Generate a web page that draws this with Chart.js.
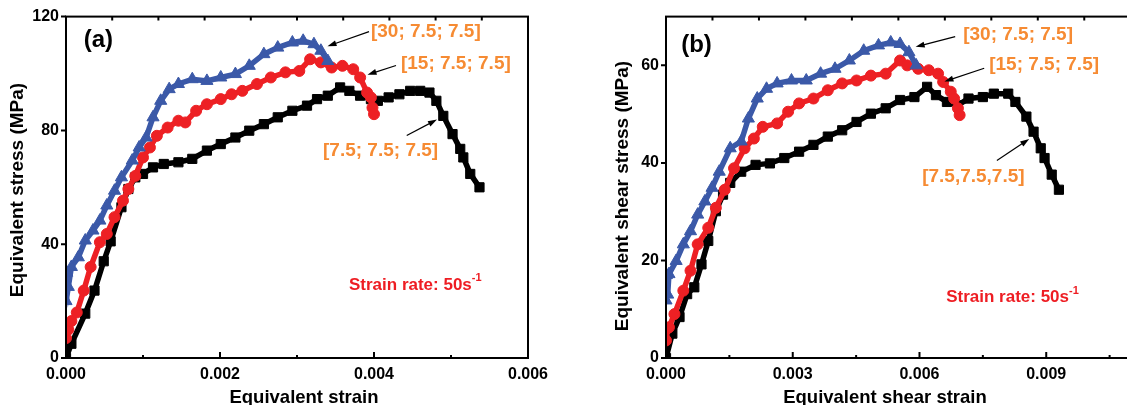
<!DOCTYPE html>
<html>
<head>
<meta charset="utf-8">
<script src="https://cdn.jsdelivr.net/npm/chart.js@4"></script>
<style>
  html, body { margin: 0; padding: 0; background: #fff; overflow: hidden; width: 1127px; height: 405px; }
  .panel { position: absolute; top: 0; }
  #wrapA { left: 0; width: 560px; height: 420px; }
  #wrapB { left: 580px; width: 620px; height: 420px; }
</style>
</head>
<body>
<div class="panel" id="wrapA"><canvas id="chartA" width="560" height="420"></canvas></div>
<div class="panel" id="wrapB"><canvas id="chartB" width="620" height="420"></canvas></div>
<script>
// (a) 等效應力-應變  [7.5;7.5;7.5] 黑 / [15;7.5;7.5] 紅 / [30;7.5;7.5] 藍
var aBlackX = [0, 0.00007, 0.00025, 0.00037, 0.00049, 0.00058, 0.00072, 0.00081, 0.0009, 0.001, 0.00113, 0.00127, 0.00146, 0.00164, 0.00183, 0.00201, 0.0022, 0.00238, 0.00257, 0.00275, 0.00294, 0.00313, 0.00326, 0.0034, 0.00356, 0.00368, 0.00382, 0.00396, 0.00405, 0.00419, 0.00433, 0.00447, 0.0046, 0.00472, 0.00481, 0.0049, 0.00502, 0.00512, 0.00516, 0.00525, 0.00537];
var aBlackY = [0, 5, 15.6, 23.7, 34, 41, 53, 59.4, 63.5, 64.7, 67, 68.2, 68.8, 70, 72.9, 75.2, 77.5, 79.9, 82.2, 84.6, 86.9, 88.7, 91, 92.2, 95.1, 93.9, 92.2, 91, 90.4, 91.6, 92.7, 93.9, 93.9, 93.3, 90.4, 85.1, 78.7, 73.5, 70.5, 64.7, 60];
var aRedX = [0, 0.00003, 0.00007, 0.00014, 0.00023, 0.00032, 0.00044, 0.00053, 0.00063, 0.00074, 0.00081, 0.0009, 0.001, 0.00109, 0.00118, 0.00132, 0.00146, 0.00155, 0.00169, 0.00183, 0.00201, 0.00215, 0.00229, 0.00248, 0.00266, 0.00285, 0.00303, 0.00317, 0.00331, 0.00345, 0.00359, 0.00373, 0.00382, 0.00391, 0.00396, 0.00398, 0.004];
var aRedY = [7, 10, 13, 16, 23.7, 32, 40.7, 43.6, 49.5, 55.3, 59.4, 64, 70.5, 74, 78.1, 81, 83.4, 82.8, 86.9, 89.2, 91, 92.7, 93.9, 96.3, 98.6, 100.4, 100.9, 105, 103.9, 102.1, 102.7, 101.5, 98.6, 93.3, 91.6, 88, 85.7];
var aBlueX = [0, 0.00001, 0.00003, 0.00007, 0.00016, 0.00025, 0.00035, 0.00044, 0.00053, 0.00063, 0.00072, 0.00086, 0.00095, 0.00104, 0.00113, 0.00123, 0.00134, 0.00146, 0.00164, 0.00183, 0.00201, 0.0022, 0.00238, 0.00257, 0.00275, 0.00294, 0.00308, 0.00322, 0.00331, 0.0034];
var aBlueY = [20, 30, 25, 32, 35.4, 41.3, 44.8, 48.3, 53.6, 58.8, 63.5, 69.4, 74, 77.5, 84.6, 90.4, 94.5, 96.3, 98, 97.4, 98.6, 99.8, 102.7, 106.8, 109.1, 110.9, 111.5, 110.3, 108, 104.4];
var aXTicks = [0, 0.002, 0.004, 0.006];
var aYTicks = [0, 40, 80, 120];
var aNotes = ['[30; 7.5; 7.5]', '[15; 7.5; 7.5]', '[7.5; 7.5; 7.5]'];

// (b) 等效剪應力-剪應變
var bBlackX = [0, 0.00015, 0.00032, 0.0005, 0.00067, 0.00084, 0.001, 0.00118, 0.00135, 0.00152, 0.00178, 0.00212, 0.00246, 0.0028, 0.00315, 0.00349, 0.00383, 0.00417, 0.00451, 0.00485, 0.0052, 0.00554, 0.00588, 0.00618, 0.00639, 0.00665, 0.00691, 0.00716, 0.0075, 0.00776, 0.0081, 0.00827, 0.00853, 0.0087, 0.00887, 0.00896, 0.00913, 0.0093];
var bBlackY = [0, 5, 8.4, 13.1, 14.5, 19.2, 24, 30.1, 33.5, 35.9, 38.2, 39.6, 39.9, 41, 42.3, 43.7, 45.4, 46.7, 48.4, 50.1, 51.2, 52.9, 53.5, 55.6, 53.9, 52.5, 51.8, 53.2, 53.5, 54.2, 54.2, 52.5, 49.5, 46.4, 43, 41, 37.6, 34.5];
var bRedX = [0, 0.00002, 0.00007, 0.0002, 0.00041, 0.00058, 0.00075, 0.001, 0.00118, 0.00139, 0.00161, 0.00186, 0.00208, 0.00229, 0.00263, 0.00289, 0.00315, 0.00349, 0.00383, 0.00417, 0.00451, 0.00485, 0.0052, 0.00554, 0.00571, 0.00597, 0.00622, 0.00644, 0.00656, 0.00674, 0.00682, 0.00691, 0.00695];
var bRedY = [3.6, 6, 6.3, 9, 13.8, 17.9, 23.3, 26.7, 30.8, 34.5, 38.9, 43, 45, 47.4, 48.1, 50.5, 52.2, 53.2, 54.9, 56.3, 56.9, 57.9, 58.3, 61, 60, 59.3, 59, 58.3, 56.6, 54.6, 53.2, 51.2, 49.8];
var bBlueX = [0, 0.00001, 0.00004, 0.00007, 0.00024, 0.00041, 0.00058, 0.00075, 0.00092, 0.00109, 0.00126, 0.00152, 0.00178, 0.00195, 0.00216, 0.00238, 0.00263, 0.00297, 0.00332, 0.00366, 0.004, 0.00434, 0.00468, 0.00503, 0.00532, 0.00554, 0.00575, 0.00592];
var bBlueY = [11.8, 17, 13, 17.2, 19.9, 23.3, 26, 29.4, 32.1, 34.9, 38.2, 43, 44.4, 49.1, 53.2, 55.2, 56.3, 56.9, 56.9, 58.3, 59.3, 61, 63, 64.1, 64.7, 64.4, 62.7, 60];
var bXTicks = [0, 0.003, 0.006, 0.009, 0.012];
var bYTicks = [0, 20, 40, 60];
var bNotes = ['[30; 7.5; 7.5]', '[15; 7.5; 7.5]', '[7.5,7.5,7.5]'];

var FONT = '"Liberation Sans", Arial, Helvetica, sans-serif';
var ORANGE = '#f68b33';
var BLUE = '#3b59a8';
var RED = '#ed2024';

Chart.defaults.font.family = FONT;
Chart.defaults.color = '#000';

function pts(xs, ys){
    return xs.map(function(v, i){ return {x: v, y: ys[i]}; });
}

function series(xs, ys, color, style, r){
    return {
        data: pts(xs, ys),
        borderColor: color,
        backgroundColor: color,
        borderWidth: 5.5,
        pointStyle: style,
        pointRadius: r,
        pointBorderWidth: 1,
        pointBorderColor: color,
        pointBackgroundColor: color,
        tension: 0
    };
}

function arrow(ctx, x1, y1, x2, y2){
    var ang = Math.atan2(y2 - y1, x2 - x1);
    ctx.beginPath();
    ctx.moveTo(x1, y1);
    ctx.lineTo(x2 - 6 * Math.cos(ang), y2 - 6 * Math.sin(ang));
    ctx.stroke();
    ctx.beginPath();
    ctx.moveTo(x2, y2);
    ctx.lineTo(x2 - 9 * Math.cos(ang) + 3 * Math.sin(ang), y2 - 9 * Math.sin(ang) - 3 * Math.cos(ang));
    ctx.lineTo(x2 - 9 * Math.cos(ang) - 3 * Math.sin(ang), y2 - 9 * Math.sin(ang) + 3 * Math.cos(ang));
    ctx.closePath();
    ctx.fill();
}

// 外框 + 刻度 + 軸標題 + 標註
var decoPlugin = {
    id: 'deco',
    afterDraw: function(chart, args, o){
        var ctx = chart.ctx, a = chart.chartArea;
        var x = chart.scales.x, y = chart.scales.y;
        ctx.save();
        ctx.strokeStyle = '#000';
        ctx.fillStyle = '#000';
        ctx.lineWidth = 2;
        ctx.strokeRect(a.left, a.top, a.right - a.left, a.bottom - a.top);

        // x 主刻度(向內) + 次刻度
        var xt = o.xTicks;
        ctx.beginPath();
        for (var i = 0; i < xt.length; i++) {
            var px = x.getPixelForValue(xt[i]);
            ctx.moveTo(px, a.bottom); ctx.lineTo(px, a.bottom - 6);
            if (i < xt.length - 1) {
                var pm = x.getPixelForValue((xt[i] + xt[i + 1]) / 2);
                ctx.moveTo(pm, a.bottom); ctx.lineTo(pm, a.bottom - 3);
            }
        }
        // 上框小刻度
        for (var v = o.topStep; v < x.max; v += o.topStep) {
            var pt = x.getPixelForValue(v);
            ctx.moveTo(pt, a.top); ctx.lineTo(pt, a.top + 4);
        }
        // y 刻度(向外)
        o.yTicks.forEach(function(t){
            var py = y.getPixelForValue(t);
            ctx.moveTo(a.left, py); ctx.lineTo(a.left - 5, py);
        });
        ctx.stroke();

        // 軸標題
        ctx.textBaseline = 'middle';
        ctx.textAlign = 'center';
        ctx.font = 'bold 18.5px ' + FONT;
        ctx.fillText(o.xTitle, a.left + o.xTitleDx, 398);
        ctx.save();
        ctx.translate(o.yTitleX, o.yTitleY);
        ctx.rotate(-Math.PI / 2);
        ctx.font = 'bold 19px ' + FONT;
        ctx.fillText(o.yTitle, 0, 0);
        ctx.restore();

        // (a)/(b)
        ctx.textAlign = 'left';
        ctx.font = 'bold 24px ' + FONT;
        ctx.fillText(o.tag[0], x.getPixelForValue(o.tag[1]), y.getPixelForValue(o.tag[2]));

        // 標註文字
        ctx.fillStyle = ORANGE;
        ctx.font = 'bold 19px ' + FONT;
        o.notes.forEach(function(n){
            ctx.fillText(n.text, x.getPixelForValue(n.at[0]), y.getPixelForValue(n.at[1]));
        });
        // 箭頭
        ctx.strokeStyle = '#000';
        ctx.fillStyle = '#000';
        ctx.lineWidth = 1.2;
        o.arrows.forEach(function(r){
            arrow(ctx, x.getPixelForValue(r[0]), y.getPixelForValue(r[1]), x.getPixelForValue(r[2]), y.getPixelForValue(r[3]));
        });

        // Strain rate
        var sx = x.getPixelForValue(o.rate[0]), sy = y.getPixelForValue(o.rate[1]);
        ctx.fillStyle = '#ee1d23';
        ctx.font = 'bold 17px ' + FONT;
        ctx.fillText('Strain rate: 50s', sx, sy);
        var w = ctx.measureText('Strain rate: 50s').width;
        ctx.font = 'bold 11px ' + FONT;
        ctx.fillText('-1', sx + w, sy - 7);
        ctx.restore();
    }
};

function makeChart(id, sets, xMax, yMax, xTicks, yTicks, yWidth, pad, deco){
    return new Chart(document.getElementById(id), {
        type: 'line',
        data: { datasets: sets },
        options: {
            responsive: false,
            animation: false,
            devicePixelRatio: 1,
            layout: { padding: pad },
            plugins: { legend: { display: false }, tooltip: { enabled: false }, deco: deco },
            scales: {
                x: {
                    type: 'linear', min: 0, max: xMax,
                    grid: { display: false, drawTicks: false },
                    border: { display: false },
                    afterBuildTicks: function(s){ s.ticks = xTicks.map(function(v){ return {value: v}; }); },
                    afterFit: function(s){ s.height = 62; },
                    ticks: {
                        autoSkip: false, maxRotation: 0, padding: 7,
                        font: { size: 16, weight: 'bold' },
                        callback: function(v){ return Number(v).toFixed(3); }
                    }
                },
                y: {
                    type: 'linear', min: 0, max: yMax,
                    grid: { display: false, drawTicks: false },
                    border: { display: false },
                    afterBuildTicks: function(s){ s.ticks = yTicks.map(function(v){ return {value: v}; }); },
                    afterFit: function(s){ s.width = yWidth; },
                    ticks: { padding: 7, font: { size: 16, weight: 'bold' } }
                }
            }
        },
        plugins: [decoPlugin]
    });
}

makeChart('chartA', [
    series(aBlueX, aBlueY, BLUE, 'triangle', 7),
    series(aRedX, aRedY, RED, 'circle', 5.5),
    series(aBlackX, aBlackY, '#000', 'rect', 6.5)
], 0.006, 120, aXTicks, aYTicks, 66, { top: 16, right: 32, left: 0, bottom: 0 }, {
    xTicks: aXTicks, yTicks: aYTicks, topStep: 0.0006,
    xTitle: 'Equivalent strain', xTitleDx: 238,
    yTitle: 'Equivalent stress (MPa)', yTitleX: 18, yTitleY: 190,
    tag: ['(a)', 0.00023, 111.6],
    notes: [
        { text: aNotes[0], at: [0.00396, 114.7] },
        { text: aNotes[1], at: [0.00435, 103.5] },
        { text: aNotes[2], at: [0.003338, 73] }
    ],
    arrows: [
        [0.003935, 114.7, 0.003396, 109.6],
        [0.004286, 102.8, 0.003916, 99.6],
        [0.004425, 78.2, 0.004818, 83.8]
    ],
    rate: [0.003675, 25.6]
});

makeChart('chartB', [
    series(bBlueX, bBlueY, BLUE, 'triangle', 7),
    series(bRedX, bRedY, RED, 'circle', 5.5),
    series(bBlackX, bBlackY, '#000', 'rect', 6.5)
], 0.012, 70, bXTicks, bYTicks, 86, { top: 13, right: 27, left: 0, bottom: 0 }, {
    xTicks: bXTicks, yTicks: bYTicks, topStep: 0.0011,
    xTitle: 'Equivalent shear strain', xTitleDx: 219,
    yTitle: 'Equivalent shear stress (MPa)', yTitleX: 43, yTitleY: 196,
    tag: ['(b)', 0.00036, 64.2],
    notes: [
        { text: bNotes[0], at: [0.007034, 66.2] },
        { text: bNotes[1], at: [0.00765, 60.1] },
        { text: bNotes[2], at: [0.006063, 37.1] }
    ],
    arrows: [
        [0.006845, 65.9, 0.005909, 63.8],
        [0.007532, 59.4, 0.006591, 56.7],
        [0.007832, 40.5, 0.008597, 44.9]
    ],
    rate: [0.006632, 12.4]
});
</script>
</body>
</html>
